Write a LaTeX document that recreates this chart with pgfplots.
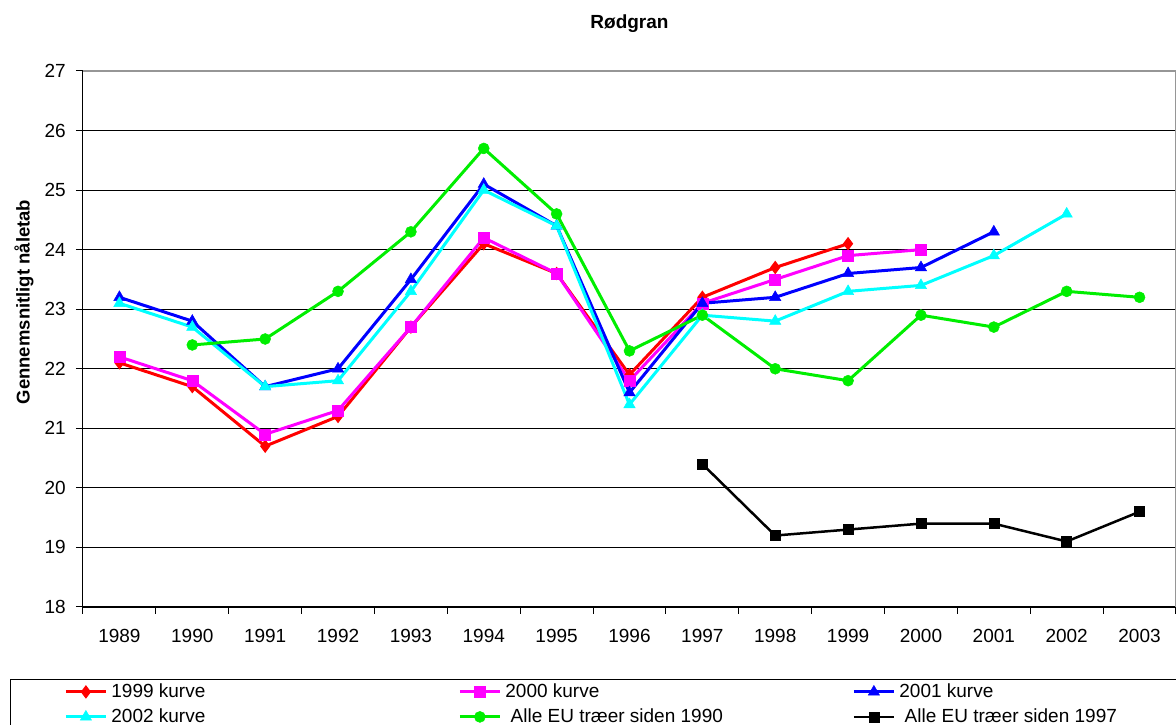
\documentclass[border=0pt]{standalone}
\usepackage{pgfplots}
\pgfplotsset{compat=1.18}
\usepackage{fontspec}
\setmainfont{Liberation Sans}
\definecolor{cRed}{RGB}{255,0,0}
\definecolor{cMag}{RGB}{255,0,255}
\definecolor{cBlue}{RGB}{0,0,255}
\definecolor{cCyan}{RGB}{0,255,255}
\definecolor{cGreen}{RGB}{0,238,0}
\definecolor{cBorder}{RGB}{150,150,150}
\newcommand{\lt}[1]{\makebox[347pt][l]{#1}}
\begin{document}
\begin{tikzpicture}
\begin{axis}[
  at={(0,0)}, anchor=south west,
  scale only axis, width=1093pt, height=536pt,
  xmin=-0.5, xmax=14.5, ymin=18, ymax=27,
  axis x line*=bottom, axis y line*=left,
  axis line style={black, line width=1pt},
  xtick={0,...,14},
  xticklabels={1989,1990,1991,1992,1993,1994,1995,1996,1997,1998,1999,2000,2001,2002,2003},
  minor xtick={-0.5,0.5,...,14.5},
  major x tick style={draw=none},
  minor tick length=7pt, major tick length=7pt,
  tick align=outside,
  tick style={black, line width=1pt},
  ytick={18,...,27},
  ymajorgrids, major grid style={black, line width=0.9pt},
  /pgf/number format/assume math mode=true,
  ticklabel style={font=\fontsize{19}{22}\selectfont},
  yticklabel style={inner xsep=0pt, xshift=-10pt},
  xticklabel style={yshift=-12pt},
  title={\textbf{Rødgran}},
  title style={font=\fontsize{19}{22}\selectfont, at={(axis description cs:0.5,1.0765)}, anchor=center},
  ylabel={\textbf{Gennemsnitligt nåletab}},
  ylabel style={font=\fontsize{18.5}{22}\selectfont, at={(axis description cs:-0.0540,0.569)}, anchor=center},
  legend columns=3,
  legend image code/.code={\draw[mark repeat=2, mark phase=2, #1] plot coordinates {(0pt,0pt) (20pt,0pt) (40pt,0pt)};},
  legend style={draw=black, line width=0.8pt, at={(0,0)}, anchor=north west, xshift=-73pt, yshift=-72pt,
    inner xsep=54pt, inner ysep=4pt, font=\fontsize{19}{23}\selectfont,
    nodes={inner sep=0pt, anchor=west, text height=14pt, text depth=3pt},
    row sep=8pt,
    /tikz/every odd column/.append style={column sep=4pt},
    /tikz/every even column/.append style={column sep=0pt}},
  legend cell align=left,
]
\addplot[cRed, line width=3pt, mark=diamond*, mark size=6pt, mark options={solid, fill=cRed, line width=1pt}] coordinates {
(0,22.1) (1,21.7) (2,20.7) (3,21.2) (4,22.7) (5,24.1) (6,23.6) (7,21.9) (8,23.2) (9,23.7) (10,24.1)};
\addlegendentry{\lt{1999 kurve}}
\addplot[cMag, line width=3pt, mark=square*, mark size=5.5pt, mark options={solid, fill=cMag, line width=0.5pt}] coordinates {
(0,22.2) (1,21.8) (2,20.9) (3,21.3) (4,22.7) (5,24.2) (6,23.6) (7,21.8) (8,23.1) (9,23.5) (10,23.9) (11,24.0)};
\addlegendentry{\lt{2000 kurve}}
\addplot[cBlue, line width=3pt, mark=triangle*, mark size=6.5pt, mark options={solid, fill=cBlue, line width=0.5pt}] coordinates {
(0,23.2) (1,22.8) (2,21.7) (3,22.0) (4,23.5) (5,25.1) (6,24.4) (7,21.6) (8,23.1) (9,23.2) (10,23.6) (11,23.7) (12,24.3)};
\addlegendentry{\lt{2001 kurve}}
\addplot[cCyan, line width=3pt, mark=triangle*, mark size=6.5pt, mark options={solid, fill=cCyan, line width=0.5pt}] coordinates {
(0,23.1) (1,22.7) (2,21.7) (3,21.8) (4,23.3) (5,25.0) (6,24.4) (7,21.4) (8,22.9) (9,22.8) (10,23.3) (11,23.4) (12,23.9) (13,24.6)};
\addlegendentry{\lt{2002 kurve}}
\addplot[cGreen, line width=3pt, mark=*, mark size=5.5pt, mark options={solid, fill=cGreen, line width=0.5pt}] coordinates {
(1,22.4) (2,22.5) (3,23.3) (4,24.3) (5,25.7) (6,24.6) (7,22.3) (8,22.9) (9,22.0) (10,21.8) (11,22.9) (12,22.7) (13,23.3) (14,23.2)};
\addlegendentry{\lt{\ Alle EU træer siden 1990}}
\addplot[black, line width=2.5pt, mark=square*, mark size=5pt, mark options={solid, fill=black, line width=0.5pt}] coordinates {
(8,20.4) (9,19.2) (10,19.3) (11,19.4) (12,19.4) (13,19.1) (14,19.6)};
\addlegendentry{\lt{\ Alle EU træer siden 1997}}
\draw[cBorder, line width=1.5pt] (rel axis cs:0,1) -- (rel axis cs:1,1) -- (rel axis cs:1,0);
\end{axis}
\pgfresetboundingbox
\useasboundingbox (-83pt,-118pt) rectangle (1093pt,607pt);
\end{tikzpicture}
\end{document}
